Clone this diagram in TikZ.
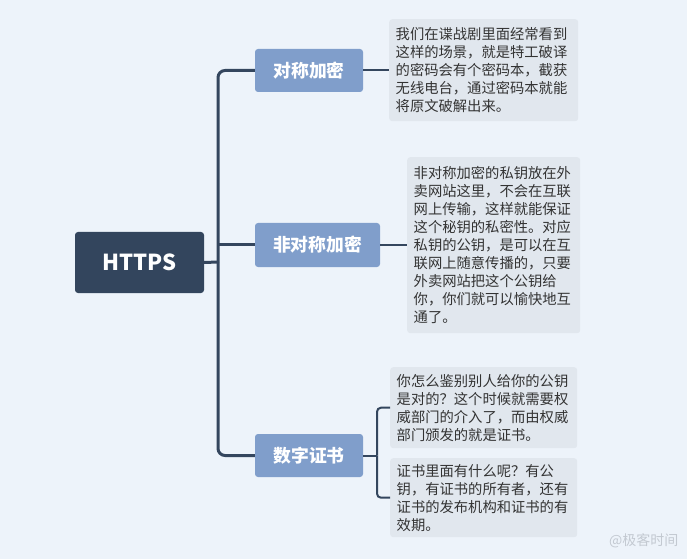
\documentclass[tikz,border=0pt]{standalone}
\usepackage{fontspec}
\setmainfont{Noto Sans CJK SC}
\definecolor{bgcol}{HTML}{EDF3FA}
\definecolor{rootcol}{HTML}{33455D}
\definecolor{branchcol}{HTML}{809ECB}
\definecolor{notecol}{HTML}{E1E7EE}
\definecolor{linkcol}{HTML}{34465E}
\definecolor{textcol}{HTML}{333333}
\definecolor{markcol}{HTML}{C3C9D1}
\begin{document}
\begin{tikzpicture}[x=1bp,y=-1bp,
  rootbox/.style={fill=rootcol, text=white, rounded corners=3bp, inner sep=0pt,
    font=\fontsize{22bp}{25bp}\selectfont\bfseries},
  branchbox/.style={fill=branchcol, text=white, rounded corners=3bp, inner sep=0pt,
    font=\fontsize{17.8bp}{20bp}\selectfont\bfseries},
  notebox/.style={fill=notecol, text=textcol, rounded corners=3bp, anchor=north west,
    inner xsep=6.5bp, inner ysep=0pt, align=left,
    font=\fontsize{14.3bp}{18bp}\selectfont},
  trunk/.style={draw=linkcol, line width=3bp, rounded corners=7bp},
  twig/.style={draw=linkcol, line width=2bp, rounded corners=4bp}]

% canvas
\fill[bgcol] (0,0) rectangle (687,559);
\useasboundingbox (0,0) rectangle (687,559);

% central topic and its three branches
\node[rootbox, minimum width=129bp, minimum height=61bp] (https) at (139.5,262.5) {HTTPS};
\node[branchbox, minimum width=108bp, minimum height=43bp] (sym)  at (309,70.5)  {对称加密};
\node[branchbox, minimum width=125bp, minimum height=44bp] (asym) at (317.5,245) {非对称加密};
\node[branchbox, minimum width=108bp, minimum height=43bp] (cert) at (309,455.5) {数字证书};

% explanatory notes
\node[notebox, text width=176bp, minimum width=189bp, minimum height=102bp] (n1) at (389,19)
  {我们在谍战剧里面经常看到\\这样的场景，就是特工破译\\的密码会有个密码本，截获\\无线电台，通过密码本就能\\将原文破解出来。};
\node[notebox, text width=160bp, minimum width=173bp, minimum height=176bp] (n2) at (407,157)
  {非对称加密的私钥放在外\\卖网站这里，不会在互联\\网上传输，这样就能保证\\这个秘钥的私密性。对应\\私钥的公钥，是可以在互\\联网上随意传播的，只要\\外卖网站把这个公钥给\\你，你们就可以愉快地互\\通了。};
\node[notebox, text width=174bp, minimum width=187bp, minimum height=81bp] (n3) at (390,367)
  {你怎么鉴别别人给你的公钥\\是对的？这个时候就需要权\\威部门的介入了，而由权威\\部门颁发的就是证书。};
\node[notebox, text width=174bp, minimum width=187bp, minimum height=79bp] (n4) at (390,458)
  {证书里面有什么呢？有公\\钥，有证书的所有者，还有\\证书的发布机构和证书的有\\效期。};

% trunk from the central topic
\coordinate (hub) at (218,262);
\draw[trunk] (https.east) -- (hub);
\draw[trunk] (sym.west) -| (hub);
\draw[trunk] (cert.west) -| (hub);
\draw[trunk] (asym.west) -- (asym.west -| hub);

% branch-to-note links
\draw[twig] (sym.east) -- (sym.east -| n1.west);
\draw[twig] (asym.east) -- (asym.east -| n2.west);
\coordinate (cbr) at (377,455.5);
\draw[twig] (cert.east) -- (cbr);
\draw[twig] (n3.west) -| (cbr);
\draw[twig] (n4.west) -| (cbr);

% signature
\node[text=markcol, font=\fontsize{14bp}{16bp}\selectfont, anchor=east] (sig) at (682,541) {@极客时间};
\end{tikzpicture}
\end{document}
